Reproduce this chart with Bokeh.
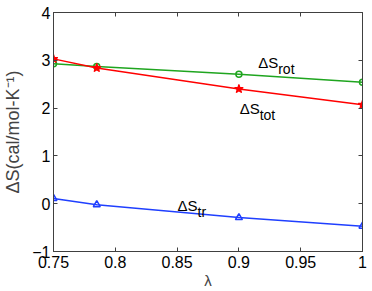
from bokeh.plotting import figure
from bokeh.models import LinearAxis, FixedTicker, Range1d, CustomLabelingPolicy
from bokeh.embed import file_html
from bokeh.resources import INLINE
from bokeh.core.properties import value

lam = [0.75, 0.785, 0.9, 1.0]
s_rot = [2.93, 2.87, 2.71, 2.54]
s_tot = [3.03, 2.84, 2.40, 2.07]
s_tr = [0.11, -0.02, -0.29, -0.47]

x_ticks = [0.75, 0.8, 0.85, 0.9, 0.95, 1.0]
x_tick_labels = ["0.75", "0.8", "0.85", "0.9", "0.95", "1"]
y_ticks = [-1, 0, 1, 2, 3, 4]
y_tick_labels = ["\u22121", "0", "1", "2", "3", "4"]

label_names = ["\u0394S", "\u0394S", "\u0394S"]
label_subs = ["rot", "tot", "tr"]
label_x = [0.9156, 0.9006, 0.8504]
label_y = [2.96, 2.0, -0.03]

FONT = "Liberation Sans"
AX = "#404040"

p = figure(width=372, height=291, output_backend="svg", toolbar_location=None,
           x_range=Range1d(0.75, 1.0), y_range=Range1d(-1, 4),
           min_border_left=52, min_border_right=10, min_border_top=12, min_border_bottom=40)
p.grid.visible = False
p.outline_line_color = AX

green = "#1fa51f"
red = "#ff0000"
blue = "#1f3fff"

p.line(lam, s_rot, line_color=green, line_width=1.5)
p.scatter(lam, s_rot, marker="circle", size=6, line_color=green, fill_color=None, line_width=1.5)
p.line(lam, s_tot, line_color=red, line_width=1.5)
p.scatter(lam, s_tot, marker="star", size=9, line_color=red, fill_color=red, line_width=1.2)
p.line(lam, s_tr, line_color=blue, line_width=1.5)
p.scatter(lam, s_tr, marker="triangle", size=7, line_color=blue, fill_color=None, line_width=1.5)

p.text(x=label_x, y=label_y, text=label_names, text_font=value(FONT), text_font_size="15px",
       text_baseline="alphabetic", text_align="left", text_color="black")
p.text(x=label_x, y=label_y, text=label_subs, text_font=value(FONT), text_font_size="14px",
       text_baseline="alphabetic", text_align="left", text_color="black", x_offset=20, y_offset=7)

hide_all = CustomLabelingPolicy(code="""
try { indices.clear() } catch (e) {
  try { for (const i of Array.from(indices)) { indices.unset(i) } } catch (e2) {}
}
return indices
""")

def style(ax, labels):
    ax.major_tick_in = 4
    ax.major_tick_out = 0
    ax.minor_tick_in = 0
    ax.minor_tick_out = 0
    ax.axis_line_color = AX
    ax.major_tick_line_color = AX
    ax.major_label_text_font = FONT
    ax.major_label_text_color = "black"
    if labels:
        ax.major_label_text_font_size = "16px"
        ax.major_label_standoff = 3
    else:
        ax.major_label_text_font_size = "0px"
        ax.major_label_standoff = 0
        ax.major_label_policy = hide_all

p.xaxis.ticker = FixedTicker(ticks=x_ticks)
p.xaxis.major_label_overrides = dict(zip(x_ticks, x_tick_labels))
p.yaxis.ticker = FixedTicker(ticks=y_ticks)
p.yaxis.major_label_overrides = dict(zip(y_ticks, y_tick_labels))
style(p.xaxis[0], True)
style(p.yaxis[0], True)
p.xaxis[0].major_label_standoff = 4
p.xaxis.axis_label = "\u03bb"
p.yaxis.axis_label = "\u0394S(cal/mol-K\u207b\u00b9)"
for ax in (p.xaxis[0], p.yaxis[0]):
    ax.axis_label_text_font = FONT
    ax.axis_label_text_font_style = "normal"
p.xaxis[0].axis_label_text_font_size = "15px"
p.xaxis[0].axis_label_standoff = 1
p.yaxis[0].axis_label_text_font_size = "18px"
p.yaxis[0].axis_label_standoff = 6

top = LinearAxis(ticker=FixedTicker(ticks=x_ticks))
right = LinearAxis(ticker=FixedTicker(ticks=y_ticks))
style(top, False)
style(right, False)
p.add_layout(top, "above")
p.add_layout(right, "right")

open("out.html", "w").write(file_html(p, INLINE))
